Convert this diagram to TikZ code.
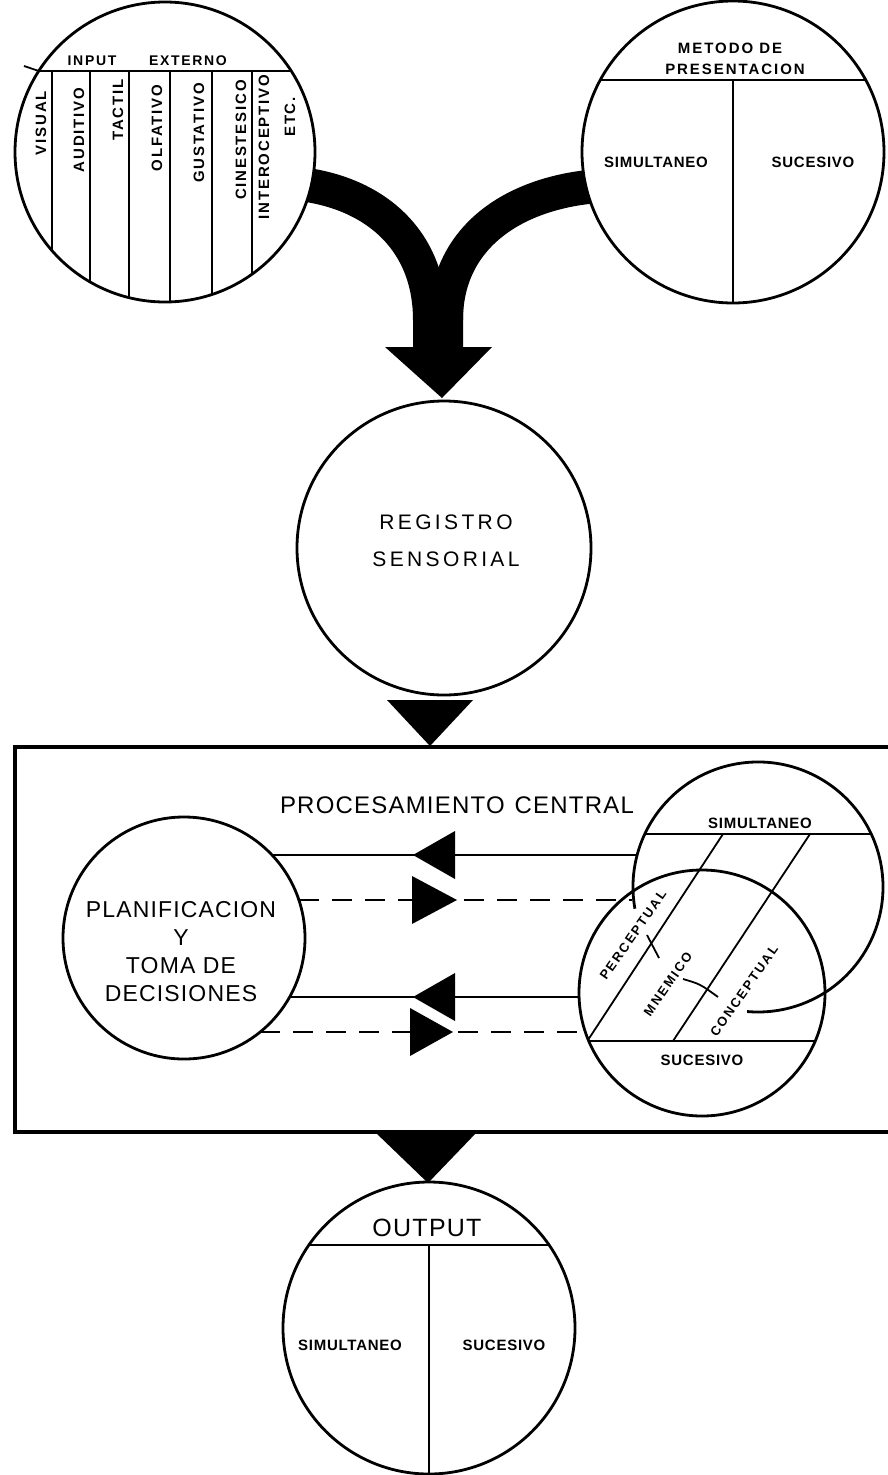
\documentclass[tikz,border=0pt]{standalone}
\usepackage{fontspec}
\setmainfont{Liberation Sans}
\begin{document}
\begin{tikzpicture}[x=1pt,y=-1pt,
  ring/.style={circle,draw,fill=white,line width=2.8pt,inner sep=0pt},
  sep/.style={line width=2.8pt},
  divline/.style={line width=1.8pt},
  boxline/.style={line width=4pt},
  band/.style={line width=34pt},
  solidline/.style={line width=2.6pt},
  dashline/.style={line width=2.6pt,dash pattern=on 20pt off 13pt},
  lbl/.style={inner sep=0pt,font=\bfseries\fontsize{15}{17}\selectfont\addfontfeature{LetterSpace=5}},
  vlbl/.style={inner sep=0pt,rotate=90,font=\bfseries\fontsize{15}{17}\selectfont\addfontfeature{LetterSpace=12}},
  hlbl/.style={inner sep=0pt,font=\bfseries\fontsize{14}{16}\selectfont\addfontfeature{LetterSpace=12}},
  mlbl/.style={inner sep=0pt,font=\bfseries\fontsize{15}{17}\selectfont\addfontfeature{LetterSpace=13}},
  rlbl/.style={inner sep=0pt,rotate=55,font=\bfseries\fontsize{13}{15}\selectfont\addfontfeature{LetterSpace=15}},
  bigtext/.style={inner sep=0pt,align=center,font=\fontsize{21}{37}\selectfont\addfontfeature{LetterSpace=16}},
  plantext/.style={inner sep=0pt,align=center,font=\fontsize{23}{28}\selectfont\addfontfeature{LetterSpace=5}},
  titletext/.style={inner sep=0pt,font=\fontsize{24}{28}\selectfont\addfontfeature{LetterSpace=5}},
  outtext/.style={inner sep=0pt,font=\fontsize{25}{28}\selectfont\addfontfeature{LetterSpace=5}},
  head/.style={fill=black},
]
\useasboundingbox (0,0) rectangle (888,1475);
\fill[white] (0,0) rectangle (888,1475);

% ---- big merging arrow ----
\coordinate (bandLs) at (300,184);
\coordinate (bandRs) at (598,186);
\draw[band] (bandLs) .. controls (375,193) and (430,240) .. (430,320);
\draw[band] (bandRs) .. controls (510,193) and (446,240) .. (446,320);
\fill[head] (413,300) -- (413,347) -- (385,347) -- (442,398) -- (492,347) -- (463,347) -- (463,300) -- cycle;

% ---- input externo circle ----
\node[ring,minimum size=300] (inp) at (165,152) {};
\coordinate (inpL) at (38.8,71);
\coordinate (inpR) at (291.2,71);
\coordinate (inpTick) at (24,66);
\draw[sep] (inpL) -- (inpR);
\draw[divline] (inpTick) -- (inpL);
\foreach \xx/\yy in {52/250.6,90/281.9,129/297.6,170/301.9,212/294.4,252/274.2}
  \draw[divline] (\xx,71) -- (\xx,\yy);
\node[hlbl] (tinput) at (92,61) {INPUT};
\node[hlbl] (texterno) at (188,61) {EXTERNO};
\node[vlbl] (tvisual) at (41,123) {VISUAL};
\node[vlbl] (taud) at (79,130) {AUDITIVO};
\node[vlbl] (ttact) at (118,110) {TACTIL};
\node[vlbl] (tolf) at (157,128) {OLFATIVO};
\node[vlbl] (tgus) at (199,133) {GUSTATIVO};
\node[vlbl] (tcin) at (241,140) {CINESTESICO};
\node[vlbl] (tint) at (264,147) {INTEROCEPTIVO};
\node[vlbl] (tetc) at (290,117) {ETC.};

% ---- metodo de presentacion circle ----
\node[ring,minimum size=302] (met) at (733,152) {};
\coordinate (metL) at (600,80);
\coordinate (metR) at (866,80);
\coordinate (metB) at (733,303);
\draw[sep] (metL) -- (metR);
\draw[divline] (733,80) -- (metB);
\node[mlbl] (tmet1) at (730,48) {METODO DE};
\node[mlbl] (tmet2) at (735,69) {PRESENTACION};
\node[lbl] (tsim1) at (656,162) {SIMULTANEO};
\node[lbl] (tsuc1) at (813,162) {SUCESIVO};

% ---- registro sensorial ----
\node[ring,minimum size=294] (reg) at (444,548) {};
\node[bigtext] (treg) at (446,541) {REGISTRO\\SENSORIAL};
\fill[head] (387,700) -- (473,700) -- (430,746) -- cycle;

% ---- processing box ----
\draw[boxline] (900,747) -- (15,747) -- (15,1132) -- (900,1132);
\node[titletext] (tproc) at (457,805) {PROCESAMIENTO\hspace{10pt}CENTRAL};

% planning circle
\node[ring,minimum size=242] (plan) at (184,938) {};
\node[plantext] (tplan) at (181,952) {PLANIFICACION\\Y\\TOMA DE\\DECISIONES};

% memory circles
\node[ring,fill=none,minimum size=246] (low) at (702,993) {};
\draw[sep] (634.9,908.7) arc[start angle=170,end angle=455,radius=125];
\coordinate (simL) at (645,834);
\coordinate (simR) at (871,834);
\coordinate (sucL) at (589,1041);
\coordinate (sucR) at (815,1041);
\draw[sep] (simL) -- (simR);
\draw[sep] (sucL) -- (sucR);
\draw[divline] (723,834) -- (588,1040);
\draw[divline] (810,834) -- (673,1041);
\draw[divline] (647,935) -- (659,958);
\draw[divline] (683,979) .. controls (700,984) .. (718,997);
\node[lbl] (tsim2) at (760,823) {SIMULTANEO};
\node[lbl] (tsuc2) at (702,1060) {SUCESIVO};
\node[rlbl] (tper) at (633,935) {PERCEPTUAL};
\node[rlbl] (tmne) at (668,984) {MNEMICO};
\node[rlbl] (tcon) at (744,991) {CONCEPTUAL};

% connectors
\coordinate (p1) at (272,855);  \coordinate (q1) at (637,855);
\coordinate (p2) at (299,900);  \coordinate (q2) at (632,900);
\coordinate (p3) at (290,997);  \coordinate (q3) at (579,997);
\coordinate (p4) at (260,1032); \coordinate (q4) at (583,1032);
\draw[solidline] (q1) -- (p1);
\draw[dashline] (p2) -- (q2);
\draw[solidline] (q3) -- (p3);
\draw[dashline] (p4) -- (q4);
\fill[head] (413,855) -- (455,831) -- (455,879) -- cycle;
\fill[head] (412,876) -- (412,924) -- (457,900) -- cycle;
\fill[head] (413,997) -- (455,973) -- (455,1021) -- cycle;
\fill[head] (410,1008) -- (410,1056) -- (453,1032) -- cycle;

% ---- output ----
\fill[head] (375,1132) -- (477,1132) -- (428,1183) -- cycle;
\node[ring,minimum size=292] (out) at (429,1328) {};
\coordinate (outL) at (309,1245);
\coordinate (outR) at (549,1245);
\coordinate (outB) at (429,1474);
\draw[sep] (outL) -- (outR);
\draw[divline] (429,1245) -- (outB);
\node[outtext] (tout) at (427,1228) {OUTPUT};
\node[lbl] (tsim3) at (350,1345) {SIMULTANEO};
\node[lbl] (tsuc3) at (504,1345) {SUCESIVO};
\end{tikzpicture}
\end{document}
